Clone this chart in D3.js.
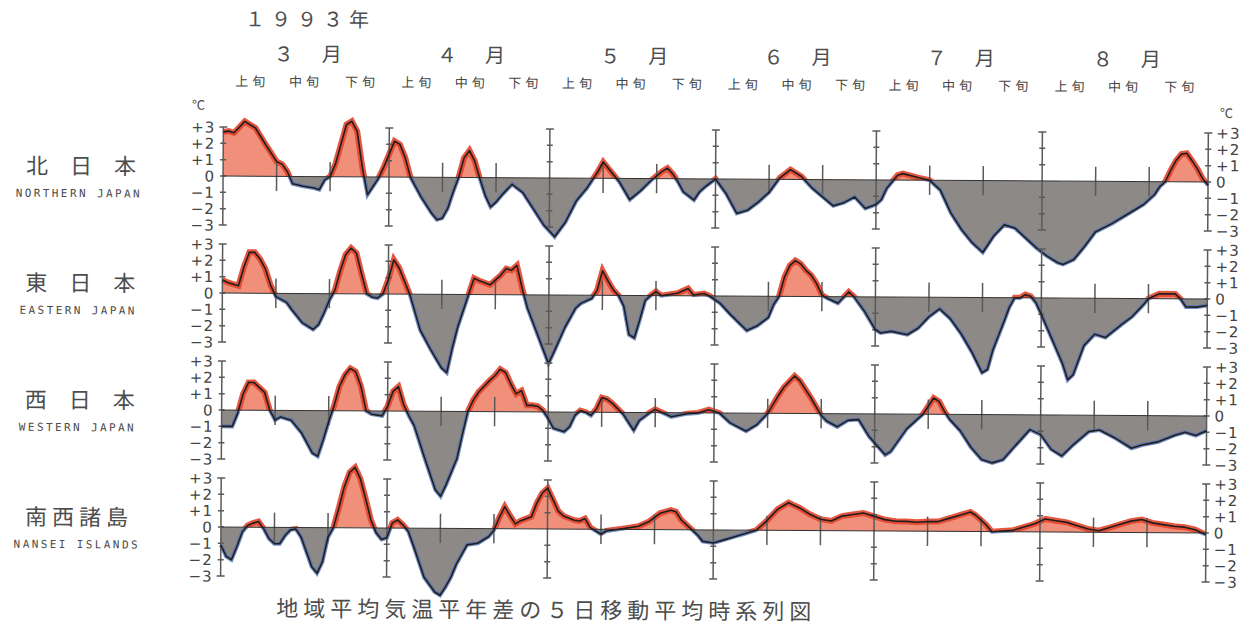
<!DOCTYPE html>
<html lang="ja">
<head>
<meta charset="utf-8">
<script src="https://cdn.jsdelivr.net/npm/d3@7"></script>
<style>
  body { margin: 0; background: #fff; }
  svg text { font-family: "Noto Sans CJK JP", sans-serif; fill: #4d4d4d; }
</style>
</head>
<body>
<div id="chart"></div>
<script>
// Days are counted from 1 March 1993, values are 5-day running mean anomalies (deg C)
const yearLabel = "１９９３年";
const monthLabels = ["３　月", "４　月", "５　月", "６　月", "７　月", "８　月"];
const monthStarts = [0, 31, 61, 92, 122, 153, 184];
const dekadLabels = ["上旬", "中旬", "下旬"];
const axisTicks = [3, 2, 1, 0, -1, -2, -3];
const regionNames = ["北　日　本", "東　日　本", "西　日　本", "南西諸島"];
const regionNamesEn = ["NORTHERN JAPAN", "EASTERN JAPAN", "WESTERN JAPAN", "NANSEI ISLANDS"];
const caption = "地域平均気温平年差の５日移動平均時系列図";

const northern = [[0,2.7],[1,2.75],[2,2.65],[4,3.35],[6,2.95],[8,1.9],[10,0.9],[11,0.75],[12,0.3],[13,-0.45],[15,-0.6],[17,-0.7],[18,-0.8],[19,-0.2],[20,0],[21,0.8],[22,2.0],[23,3.2],[24,3.4],[25,2.8],[26,0.6],[27,-1.1],[28,-0.6],[29,-0.1],[30,0.6],[31,1.4],[32,2.2],[33,2.0],[34,1.2],[35,0],[37,-1.2],[39,-2.2],[40,-2.6],[41,-2.5],[42,-1.9],[43,-0.9],[44,0],[45,1.2],[46,1.65],[47,1.0],[48,-0.1],[49,-1.1],[50,-1.8],[51,-1.5],[52,-1.1],[54,-0.4],[56,-0.9],[58,-1.9],[60,-2.9],[62,-3.6],[64,-2.7],[66,-1.4],[68,-0.6],[69,-0.1],[70,0.4],[71,1.0],[72,0.6],[73,0.2],[74,-0.2],[76,-1.3],[78,-0.75],[80,-0.1],[82,0.45],[83,0.65],[84,0.3],[85,-0.2],[86,-0.8],[88,-1.3],[89,-0.8],[90,-0.5],[92,0],[94,-0.9],[96,-2.1],[98,-1.9],[100,-1.4],[102,-0.8],[104,0.1],[106,0.6],[108,0.2],[110,-0.5],[112,-1.05],[114,-1.6],[116,-1.4],[118,-1.05],[120,-1.75],[122,-1.5],[123,-1.2],[124,-0.5],[126,0.3],[127,0.4],[130,0.15],[132,0],[134,-0.6],[136,-2.0],[138,-3.0],[140,-3.8],[142,-4.4],[144,-3.4],[146,-2.7],[148,-2.9],[150,-3.5],[152,-4.1],[154,-4.6],[156,-5.0],[157,-5.1],[159,-4.8],[161,-4.0],[163,-3.1],[166,-2.6],[169,-2.0],[172,-1.4],[174,-0.8],[175,-0.3],[176,0],[177,0.7],[178,1.3],[179,1.7],[180,1.75],[181,1.3],[182,0.8],[183,0.2],[184,-0.2]];

const eastern = [[0,0.8],[1,0.65],[3,0.45],[4,1.6],[5,2.5],[6,2.5],[7,2.1],[8,1.5],[9,0.5],[10,-0.2],[12,-0.55],[13,-1.0],[15,-1.8],[17,-2.2],[18,-1.9],[19,-1.2],[20,-0.4],[21,0.2],[22,1.4],[23,2.4],[24,2.8],[25,2.5],[26,1.2],[27,0],[28,-0.2],[29,-0.25],[30,0],[31,0.9],[32,2.1],[33,1.6],[34,0.8],[35,0],[37,-2.2],[39,-3.4],[41,-4.5],[42,-4.8],[43,-3.3],[44,-2.0],[45,-1.0],[46,0],[47,1.0],[48,0.85],[50,0.6],[52,1.2],[53,1.6],[54,1.5],[55,1.8],[56,0.4],[57,-0.8],[59,-2.5],[61,-4.2],[62,-3.5],[64,-2.0],[66,-0.8],[67,-0.5],[69,-0.2],[70,0.3],[71,1.5],[72,0.9],[73,0.35],[74,0],[75,-0.65],[76,-2.4],[77,-2.6],[78,-1.5],[79,-0.3],[80,0],[81,0.25],[82,0],[85,0.15],[87,0.45],[88,0.05],[90,0.15],[91,0],[93,-0.45],[95,-1.15],[98,-2.1],[100,-1.8],[102,-1.3],[103,-0.5],[104,0],[105,1.2],[106,1.9],[107,2.2],[108,2.0],[109,1.6],[110,1.3],[111,0.8],[112,0.1],[113,-0.1],[115,-0.4],[117,0.3],[118,0],[120,-0.9],[122,-2.0],[123,-2.2],[125,-2.1],[128,-2.3],[130,-1.9],[132,-1.2],[134,-0.7],[136,-1.3],[138,-2.2],[140,-3.3],[142,-4.6],[143,-4.4],[144,-3.2],[146,-1.5],[147,-0.6],[148,0],[149,0],[150,0.2],[151,0.1],[152,-0.3],[153,-1.0],[155,-2.5],[157,-4.0],[158,-5.0],[159,-4.7],[161,-2.9],[163,-2.2],[165,-2.4],[168,-1.6],[170,-1.1],[172,-0.4],[173,0],[175,0.3],[178,0.3],[179,0],[180,-0.5],[182,-0.5],[184,-0.4]];

const western = [[0,-1.0],[2,-1.0],[3,-0.2],[4,1.0],[5,1.7],[6,1.7],[7,1.4],[8,1.1],[9,0],[10,-0.6],[11,-0.4],[13,-0.6],[15,-1.4],[17,-2.6],[18,-2.8],[19,-1.8],[20,-0.7],[21,0.3],[22,1.5],[23,2.2],[24,2.6],[25,2.4],[26,1.5],[27,0],[28,-0.2],[30,-0.3],[31,0.3],[32,1.2],[33,1.5],[34,0.4],[35,-0.3],[36,-0.9],[38,-2.9],[40,-4.8],[41,-5.2],[42,-4.5],[44,-2.9],[45,-1.4],[46,0],[47,0.7],[48,1.2],[50,1.9],[51,2.2],[52,2.6],[53,2.4],[54,1.7],[55,1.1],[56,1.3],[57,0.4],[58,0.4],[59,0.35],[60,0.1],[61,-0.4],[62,-1.0],[64,-1.2],[65,-0.9],[66,-0.2],[67,0.1],[68,0],[69,-0.2],[70,0.2],[71,0.9],[72,0.8],[73,0.55],[75,-0.1],[77,-1.1],[78,-0.5],[80,0],[81,0.2],[84,-0.25],[87,-0.05],[89,0],[91,0.2],[93,0],[95,-0.6],[98,-1.1],[100,-0.7],[102,0],[104,1.1],[105,1.6],[107,2.3],[108,2.0],[109,1.5],[110,1.0],[112,-0.1],[113,-0.45],[115,-0.8],[117,-0.4],[119,-0.35],[121,-1.4],[124,-2.5],[125,-2.3],[128,-0.9],[131,0],[133,1.0],[134,0.8],[135,0.2],[136,-0.3],[138,-1.0],[140,-2.0],[142,-2.75],[144,-2.95],[146,-2.75],[148,-2.0],[151,-0.9],[153,-1.2],[155,-2.1],[157,-2.5],[159,-1.85],[162,-1.0],[164,-0.9],[167,-1.4],[170,-2.0],[172,-1.8],[175,-1.6],[178,-1.2],[180,-1.0],[182,-1.2],[184,-0.9]];

const nansei = [[0,-1.1],[1,-1.8],[2,-2.0],[3,-1.2],[4,-0.3],[5,0.1],[6,0.25],[7,0.35],[8,-0.1],[9,-0.7],[10,-1.0],[11,-1.0],[12,-0.5],[13,-0.15],[14,-0.1],[15,-0.6],[16,-1.5],[17,-2.4],[18,-2.8],[19,-2.1],[20,-0.6],[21,0],[22,1.2],[23,2.5],[24,3.4],[25,3.7],[26,3.0],[27,1.8],[28,0.5],[29,-0.3],[30,-0.7],[31,-0.6],[32,0.3],[33,0.5],[34,0.2],[35,-0.2],[36,-1.1],[38,-3.0],[40,-3.9],[41,-4.1],[42,-3.6],[43,-3.0],[44,-2.2],[46,-1.0],[48,-0.9],[50,-0.5],[51,-0.1],[52,0.7],[53,1.35],[54,0.8],[55,0.3],[56,0.5],[58,0.75],[59,1.6],[60,2.2],[61,2.5],[62,1.8],[63,1.1],[64,0.8],[66,0.55],[67,0.5],[68,0.65],[69,0.1],[71,-0.3],[72,-0.1],[74,0],[76,0.1],[78,0.2],[80,0.5],[82,1.0],[84,1.2],[85,1.1],[86,0.6],[88,0],[89,-0.3],[90,-0.7],[92,-0.8],[94,-0.6],[96,-0.4],[98,-0.2],[100,0],[102,0.6],[104,1.3],[106,1.7],[108,1.4],[110,1.0],[112,0.7],[114,0.6],[116,0.9],[118,1.0],[120,1.1],[122,0.9],[124,0.7],[126,0.6],[128,0.6],[130,0.55],[132,0.6],[134,0.6],[136,0.8],[138,1.0],[140,1.2],[141,1.0],[143,0.4],[144,0],[146,0.05],[148,0.1],[150,0.3],[152,0.5],[154,0.8],[156,0.7],[158,0.6],[160,0.4],[162,0.2],[164,0.1],[166,0.3],[168,0.5],[170,0.7],[172,0.8],[174,0.6],[176,0.5],[178,0.4],[180,0.35],[182,0.2],[184,-0.1]];

const regionData = [northern, eastern, western, nansei];

// Layout
const W = 1246, H = 629;
const firstZero = 176;   // zero line of the top panel
const panelStep = 117;   // distance between zero lines
const halfSpan = 49;     // pixels from 0 to +/-3

const x = d3.scaleLinear().domain([0, 184]).range([222, 1207]);

const svg = d3.select("#chart")
  .append("svg")
  .attr("width", W)
  .attr("height", H);

const defs = svg.append("defs");

// the scanned sheet is a little tilted, right side lower
const g = svg.append("g").attr("transform", "rotate(0.35, 222, 350)");

// Header: year, months, dekads
g.append("text")
  .attr("x", 243)
  .attr("y", 26)
  .attr("font-size", 20)
  .attr("letter-spacing", 6)
  .text(yearLabel);

monthLabels.forEach((m, i) => {
  const a = monthStarts[i], b = monthStarts[i + 1];
  g.append("text")
    .attr("x", x((a + b) / 2) + 3)
    .attr("y", 61)
    .attr("text-anchor", "middle")
    .attr("font-size", 20)
    .attr("letter-spacing", 4)
    .text(m);

  const mids = [a + 5, a + 15, a + 20 + (b - a - 20) / 2];
  mids.forEach((d, j) => {
    g.append("text")
      .attr("x", x(d) + 2)
      .attr("y", 86)
      .attr("text-anchor", "middle")
      .attr("font-size", 13)
      .attr("letter-spacing", 4)
      .style("fill", "#444")
      .text(dekadLabels[j]);
  });
});

// unit labels
g.append("text").attr("x", 197).attr("y", 110).attr("text-anchor", "middle")
  .attr("font-size", 13).text("℃");
g.append("text").attr("x", 1225).attr("y", 112).attr("text-anchor", "middle")
  .attr("font-size", 13).text("℃");

const fmt = (v) => (v > 0 ? "+" + v : v < 0 ? "\u2212" + Math.abs(v) : "0");

regionData.forEach((series, i) => {
  const zero = firstZero + i * panelStep;
  const y = d3.scaleLinear().domain([-3, 3]).range([zero + halfSpan, zero - halfSpan]);

  // clip regions above / below the zero line
  defs.append("clipPath").attr("id", `pos${i}`)
    .append("rect").attr("x", 0).attr("y", zero - 150).attr("width", W).attr("height", 150);
  defs.append("clipPath").attr("id", `neg${i}`)
    .append("rect").attr("x", 0).attr("y", zero).attr("width", W).attr("height", 150);

  const panel = g.append("g").attr("class", "panel");

  // region names
  panel.append("text")
    .attr("x", 80)
    .attr("y", zero - 1)
    .attr("text-anchor", "middle")
    .attr("font-size", 22)
    .attr("letter-spacing", i === 3 ? 5 : 0)
    .text(regionNames[i]);
  panel.append("text")
    .attr("x", 78)
    .attr("y", zero + 22)
    .attr("text-anchor", "middle")
    .attr("font-size", 11)
    .attr("letter-spacing", 2.4)
    .style("font-family", "'DejaVu Sans Mono', monospace")
    .text(regionNamesEn[i]);

  const area = d3.area()
    .x((d) => x(d[0]))
    .y0(y(0))
    .y1((d) => y(d[1]));
  const line = d3.line()
    .x((d) => x(d[0]))
    .y((d) => y(d[1]));

  // below normal: gray with a blue edge
  panel.append("path").datum(series)
    .attr("clip-path", `url(#neg${i})`)
    .attr("d", area)
    .attr("fill", "#8c8986");
  panel.append("path").datum(series)
    .attr("clip-path", `url(#neg${i})`)
    .attr("d", line)
    .attr("fill", "none")
    .attr("stroke", "#5472b4")
    .attr("stroke-width", 4)
    .attr("stroke-opacity", 0.8);

  // above normal: red
  panel.append("path").datum(series)
    .attr("clip-path", `url(#pos${i})`)
    .attr("d", area)
    .attr("fill", "#f0907b");
  panel.append("path").datum(series)
    .attr("clip-path", `url(#pos${i})`)
    .attr("d", line)
    .attr("fill", "none")
    .attr("stroke", "#e3452c")
    .attr("stroke-width", 6)
    .attr("stroke-opacity", 0.9);

  // month boundary ticks
  const tickG = panel.append("g").attr("stroke", "#5a5a5a").attr("stroke-width", 1.5);
  monthStarts.slice(1, 6).forEach((m) => {
    tickG.append("line")
      .attr("x1", x(m)).attr("x2", x(m))
      .attr("y1", y(3)).attr("y2", y(-3));
    axisTicks.filter((v) => v !== 0).forEach((v) => {
      const w = Math.abs(v) === 3 ? 4 : 3;
      tickG.append("line")
        .attr("x1", x(m) - w).attr("x2", x(m) + w)
        .attr("y1", y(v)).attr("y2", y(v));
    });
  });

  // dekad ticks (11th and 21st)
  monthStarts.slice(0, 6).forEach((m) => {
    [m + 10, m + 20].forEach((d) => {
      tickG.append("line")
        .attr("x1", x(d)).attr("x2", x(d))
        .attr("y1", y(0.9)).attr("y2", y(-0.9));
    });
  });

  // side axes
  [x(0), x(184)].forEach((ax, k) => {
    tickG.append("line")
      .attr("x1", ax).attr("x2", ax)
      .attr("y1", y(3)).attr("y2", y(-3));
    axisTicks.forEach((v) => {
      const w = Math.abs(v) === 3 ? 4 : 3;
      tickG.append("line")
        .attr("x1", ax - w).attr("x2", ax + w)
        .attr("y1", y(v)).attr("y2", y(v));
      panel.append("text")
        .attr("x", k === 0 ? ax - 8 : ax + 8)
        .attr("y", y(v) + 5.5)
        .attr("text-anchor", k === 0 ? "end" : "start")
        .attr("font-size", 15)
        .attr("letter-spacing", 1)
        .style("font-family", "'DejaVu Sans', sans-serif")
        .style("fill", "#444")
        .text(fmt(v));
    });
  });

  // zero line and the series line
  panel.append("line")
    .attr("x1", x(0)).attr("x2", x(184))
    .attr("y1", y(0)).attr("y2", y(0))
    .attr("stroke", "#333")
    .attr("stroke-width", 1);
  panel.append("path").datum(series)
    .attr("d", line)
    .attr("fill", "none")
    .attr("stroke", "#1e1e1e")
    .attr("stroke-width", 1.6)
    .attr("stroke-linejoin", "round");
});

// caption
g.append("text")
  .attr("x", 548)
  .attr("y", 616)
  .attr("text-anchor", "middle")
  .attr("font-size", 22)
  .attr("letter-spacing", 5)
  .text(caption);
</script>
</body>
</html>
